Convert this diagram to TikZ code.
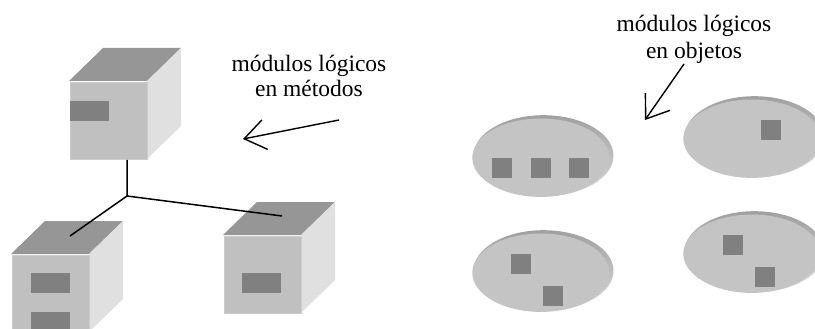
\documentclass[tikz,border=0pt]{standalone}
\usepackage{fontspec}
\setmainfont{Liberation Serif}
\usetikzlibrary{arrows.meta}
\definecolor{ctop}{HTML}{969696}
\definecolor{cfront}{HTML}{C0C0C0}
\definecolor{cfrontedge}{HTML}{CCCCCC}
\definecolor{cside}{HTML}{E0E0E0}
\definecolor{cmod}{HTML}{808080}
\definecolor{cdisc}{HTML}{C4C4C4}
\definecolor{crimtop}{HTML}{A0A0A0}
\definecolor{crimbot}{HTML}{DCDCDC}
\tikzset{
  cubetop/.style={fill=ctop},
  cubeside/.style={fill=cside},
  cubefront/.style={fill=cfront, draw=cfrontedge, line width=1.2pt, inner sep=0pt,
    minimum width=77pt, minimum height=77pt, anchor=north west},
  modrect/.style={fill=cmod, draw=none, inner sep=0pt, minimum width=39pt, minimum height=20pt, anchor=north west},
  modsq/.style={fill=cmod, draw=none, inner sep=0pt, minimum width=20pt, minimum height=20pt, anchor=north west},
  lbl/.style={anchor=base, inner sep=0pt, font=\fontsize{23.5}{27}\selectfont},
  conn/.style={line width=1.5pt, black},
  arr/.style={line width=1.4pt, black, -{Straight Barb[length=21pt,width=30pt,line width=1.4pt]}},
}
\newcommand\mycube[3]{%
  \fill[cubetop] (#2,#3) -- ++(34,-33) -- ++(78,0) -- ++(-34,33) -- cycle;
  \fill[cubeside] (#2+78,#3) -- ++(34,-33) -- ++(0,78) -- ++(-34,33) -- cycle;
  \node[cubefront] (#1) at (#2+0.6,#3+0.6) {};
}
\newcommand\mydisc[3]{%
  \shade[top color=crimtop, bottom color=crimbot] (#2+1.5,#3-0.8) ellipse [x radius=70, y radius=40.5];
  \fill[cdisc] (#2-1.2,#3+1.2) ellipse [x radius=68.5, y radius=39.2];
  \coordinate (#1) at (#2,#3);
}
\begin{document}
\begin{tikzpicture}[x=1pt,y=-1pt]
\useasboundingbox (0,0) rectangle (815,329);
\clip (0,0) rectangle (815,329);
\fill[white] (0,0) rectangle (815,329);
% cubes
\mycube{cubeA}{69}{81}
\node[modrect] (mA) at (70,101) {};
\mycube{cubeB}{11}{254}
\node[modrect] (mB1) at (31,273) {};
\node[modrect] (mB2) at (31,312) {};
\mycube{cubeC}{223}{235}
\node[modrect] (mC) at (242,273) {};
% connectors
\coordinate (jn) at (127,196);
\coordinate (tB) at (70,236);
\coordinate (tC) at (282,216);
\draw[conn] (cubeA.south -| jn) -- (jn) -- (tB);
\draw[conn] (jn) -- (tC);
% discs
\mydisc{dA}{542}{156.5}
\node[modsq] (sA1) at (492,158) {};
\node[modsq] (sA2) at (531,158) {};
\node[modsq] (sA3) at (569,158) {};
\mydisc{dB}{753}{137.5}
\node[modsq] (sB1) at (761,120) {};
\mydisc{dC}{542}{271.5}
\node[modsq] (sC1) at (511,254) {};
\node[modsq] (sC2) at (543,286) {};
\mydisc{dD}{753}{252.5}
\node[modsq] (sD1) at (723,235) {};
\node[modsq] (sD2) at (755,267) {};
% labels
\node[lbl] (l1a) at (309,72) {módulos lógicos};
\node[lbl] (l1b) at (309,96) {en métodos};
\node[lbl] (l2a) at (694,32) {módulos lógicos};
\node[lbl] (l2b) at (694,59) {en objetos};
% arrows
\coordinate (a1s) at (339,120);
\coordinate (a1t) at (243,139);
\draw[arr] (a1s) -- (a1t);
\coordinate (a2s) at (684,64);
\coordinate (a2t) at (645,120);
\draw[arr] (a2s) -- (a2t);
\end{tikzpicture}
\end{document}
